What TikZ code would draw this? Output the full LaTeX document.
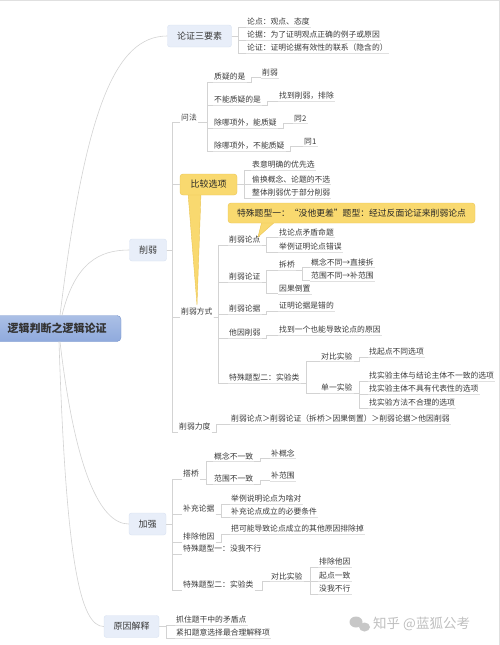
\documentclass[tikz,border=0pt]{standalone}
\usepackage{fontspec}
\setmainfont{Noto Sans CJK SC}
\usepackage{xcolor}
\usepackage{tikz}
\usetikzlibrary{positioning,calc}
\definecolor{linkgray}{HTML}{D3D3D3}
\definecolor{topicfill}{HTML}{E8EEF9}
\definecolor{topicdraw}{HTML}{D8E1F1}
\definecolor{rootfill}{HTML}{8FAADD}
\definecolor{rootdraw}{HTML}{7592CB}
\definecolor{notefill}{HTML}{F9D96F}
\definecolor{notedraw}{HTML}{EAC453}
\definecolor{inktext}{HTML}{3A3A3A}

\begin{document}
\begin{tikzpicture}[x=1pt, y=-1pt,
  root/.style={draw=rootdraw, top color=rootfill!75, bottom color=rootfill, rounded corners=4pt, minimum width=128pt, minimum height=26pt, font=\fontsize{11}{12}\selectfont\bfseries, text=black!80},
  topic/.style={draw=topicdraw, fill=topicfill, rounded corners=2.5pt, minimum height=22pt, inner xsep=9.5pt, font=\fontsize{9}{10}\selectfont, text=inktext},
  leaf/.style={anchor=west, inner sep=1pt, font=\fontsize{7.8}{9}\selectfont, text=inktext},
  note/.style={draw=notedraw, fill=notefill, rounded corners=3pt, inner sep=0pt, text=black!85},
  link/.style={draw=linkgray, line width=0.6pt},
  uline/.style={draw=linkgray!70, line width=0.5pt}
]
\useasboundingbox (0,0) rectangle (500,645);
\draw[black!12] (0,0.5) -- (499.5,0.5) -- (499.5,645);

% root and main topics
\node[root] (root) at (57,328.5) {逻辑判断之逻辑论证};
\node[topic] (yaosu) at (199.5,36) {论证三要素};
\node[topic] (xueruo) at (148,250) {削弱};
\node[topic] (jiaqiang) at (147.5,524) {加强};
\node[topic] (jieshi) at (131.5,626.5) {原因解释};

\draw[link] ([xshift=3pt]root.north) .. controls (85,110) and (115,36) .. (yaosu.west);
\draw[link] ([xshift=5pt]root.north) .. controls (75,262) and (100,250) .. (xueruo.west);
\draw[link] ([xshift=3pt]root.south) .. controls (75,470) and (100,524) .. (jiaqiang.west);
\draw[link] ([xshift=2pt]root.south) .. controls (66,560) and (80,626.5) .. (jieshi.west);

% 论证三要素
\node[leaf] (ldian) at (246,22) {论点：观点、态度};
\node[leaf] (lju) at (246,35) {论据：为了证明观点正确的例子或原因};
\node[leaf] (lzheng) at (246,48) {论证：证明论据有效性的联系（隐含的）};
\foreach \c in {ldian,lju,lzheng}
  \draw[link] (yaosu.east) -- ++(7,0) |- (\c.south west);

% 削弱 - 问法
\node[leaf] (wenfa) at (180,118) {问法};
\node[leaf] (zhiyi) at (213,77) {质疑的是};
\node[leaf] (buneng) at (213,100) {不能质疑的是};
\node[leaf] (chuneng) at (213,123) {除哪项外，能质疑};
\node[leaf] (chubu) at (213,146) {除哪项外，不能质疑};
\node[leaf] (wxr) at (261,73) {削弱};
\node[leaf] (zhaodao) at (278,96) {找到削弱，排除};
\node[leaf] (tong2) at (293,119) {同2};
\node[leaf] (tong1) at (303,142) {同1};
\foreach \c in {zhiyi,buneng,chuneng,chubu}
  \draw[link] (wenfa.south east) -- ++(9,0) |- (\c.south west);
\draw[link] (zhiyi.south east) -- ++(5,0) |- (wxr.south west);
\draw[link] (buneng.south east) -- ++(5,0) |- (zhaodao.south west);
\draw[link] (chuneng.south east) -- ++(5,0) |- (tong2.south west);
\draw[link] (chubu.south east) -- ++(5,0) |- (tong1.south west);

% 削弱 - 比较选项
\node[leaf] (youxian) at (251,165) {表意明确的优先选};
\node[leaf] (touhuan) at (251,179) {偷换概念、论题的不选};
\node[leaf] (zhengti) at (251,193) {整体削弱优于部分削弱};

% 削弱 - 削弱方式
\node[leaf] (fangshi) at (180,312) {削弱方式};
\node[leaf] (xrld) at (228,240) {削弱论点};
\node[leaf] (maodun) at (278,232) {找论点矛盾命题};
\node[leaf] (juli) at (278,247) {举例证明论点错误};
\node[leaf] (xrlz) at (228,277) {削弱论证};
\node[leaf] (chaiqiao) at (278,265) {拆桥};
\node[leaf] (gainian) at (310,262) {概念不同→直接拆};
\node[leaf] (fanwei) at (310,276) {范围不同→补范围};
\node[leaf] (yinguo) at (278,289) {因果倒置};
\node[leaf] (xrlj) at (228,309) {削弱论据};
\node[leaf] (cuode) at (278,306) {证明论据是错的};
\node[leaf] (tayin) at (228,333) {他因削弱};
\node[leaf] (yuanyin) at (278,330) {找到一个也能导致论点的原因};
\node[leaf] (shiyan) at (228,378) {特殊题型二：实验类};
\node[leaf] (duibi) at (320,356) {对比实验};
\node[leaf] (qidian) at (368,352) {找起点不同选项};
\node[leaf] (danyi) at (320,388) {单一实验};
\node[leaf] (zhuti) at (368,376) {找实验主体与结论主体不一致的选项};
\node[leaf] (daibiao) at (368,389) {找实验主体不具有代表性的选项};
\node[leaf] (fangfa) at (368,403) {找实验方法不合理的选项};
\node[leaf] (lidu) at (178,427) {削弱力度};
\node[leaf] (paixu) at (230,419) {削弱论点＞削弱论证（拆桥＞因果倒置）＞削弱论据＞他因削弱};

\foreach \c in {wenfa,fangshi,lidu}
  \draw[link] (xueruo.east) -- ++(6,0) |- (\c.south west);
\foreach \c in {xrld,xrlz,xrlj,tayin,shiyan}
  \draw[link] (fangshi.south east) -- ++(5,0) |- (\c.south west);
\foreach \c in {maodun,juli}
  \draw[link] (xrld.south east) -- ++(5,0) |- (\c.south west);
\foreach \c in {chaiqiao,yinguo}
  \draw[link] (xrlz.south east) -- ++(5,0) |- (\c.south west);
\foreach \c in {gainian,fanwei}
  \draw[link] (chaiqiao.south east) -- ++(6,0) |- (\c.south west);
\draw[link] (xrlj.south east) -- ++(5,0) |- (cuode.south west);
\draw[link] (tayin.south east) -- ++(5,0) |- (yuanyin.south west);
\foreach \c in {duibi,danyi}
  \draw[link] (shiyan.south east) -- ++(6,0) |- (\c.south west);
\draw[link] (duibi.south east) -- ++(6,0) |- (qidian.south west);
\foreach \c in {zhuti,daibiao,fangfa}
  \draw[link] (danyi.south east) -- ++(6,0) |- (\c.south west);
\draw[link] (lidu.south east) -- ++(5,0) |- (paixu.south west);

% callouts
\coordinate (bjtip) at (197,305);
\coordinate (tstip) at (258,237);
\filldraw[fill=notefill, draw=notedraw] (188,193) -- (bjtip) -- (201,193) -- cycle;
\filldraw[fill=notefill, draw=notedraw] (262,221) -- (tstip) -- (276,221) -- cycle;
\node[note, minimum width=57pt, minimum height=21pt, font=\fontsize{9}{10}\selectfont] (bijiao) at (208.5,184.5) {比较选项};
\node[note, minimum width=247pt, minimum height=20pt, font=\fontsize{8.8}{10}\selectfont] (teshu) at (351.5,213) {特殊题型一：“没他更差”题型：经过反面论证来削弱论点};
\draw[link] (xueruo.east) -- ++(6,0) |- (bijiao.west);
\foreach \c in {youxian,touhuan,zhengti}
  \draw[link] (bijiao.east) -- ++(7,0) |- (\c.south west);

% 加强
\node[leaf] (daqiao) at (182,474) {搭桥};
\node[leaf] (gnbyz) at (213,456) {概念不一致};
\node[leaf] (bugn) at (270,453) {补概念};
\node[leaf] (fwbyz) at (213,479) {范围不一致};
\node[leaf] (bufw) at (270,476) {补范围};
\node[leaf] (buchong) at (182,509) {补充论据};
\node[leaf] (weisha) at (230,499) {举例说明论点为啥对};
\node[leaf] (biyao) at (230,512) {补充论点成立的必要条件};
\node[leaf] (paichu) at (182,537) {排除他因};
\node[leaf] (paichudiao) at (230,529) {把可能导致论点成立的其他原因排除掉};
\node[leaf] (meiwo) at (182,549) {特殊题型一：没我不行};
\node[leaf] (jqsy) at (182,585) {特殊题型二：实验类};
\node[leaf] (jqdb) at (270,576) {对比实验};
\node[leaf] (pcty) at (318,562) {排除他因};
\node[leaf] (qdyz) at (318,576) {起点一致};
\node[leaf] (mwbx) at (318,589) {没我不行};
\foreach \c in {daqiao,buchong,paichu,meiwo,jqsy}
  \draw[link] (jiaqiang.east) -- ++(6,0) |- (\c.south west);
\foreach \c in {gnbyz,fwbyz}
  \draw[link] (daqiao.south east) -- ++(6,0) |- (\c.south west);
\draw[link] (gnbyz.south east) -- ++(6,0) |- (bugn.south west);
\draw[link] (fwbyz.south east) -- ++(6,0) |- (bufw.south west);
\foreach \c in {weisha,biyao}
  \draw[link] (buchong.south east) -- ++(6,0) |- (\c.south west);
\draw[link] (paichu.south east) -- ++(6,0) |- (paichudiao.south west);
\draw[link] (jqsy.south east) -- ++(8,0) |- (jqdb.south west);
\foreach \c in {pcty,qdyz,mwbx}
  \draw[link] (jqdb.south east) -- ++(7,0) |- (\c.south west);

% 原因解释
\node[leaf] (maodundian) at (175,620) {抓住题干中的矛盾点};
\node[leaf] (heli) at (175,633) {紧扣题意选择最合理解释项};
\foreach \c in {maodundian,heli}
  \draw[link] (jieshi.east) -- ++(7,0) |- (\c.south west);

% underlines
\foreach \n in {ldian,lju,lzheng,zhiyi,buneng,chuneng,chubu,wxr,zhaodao,tong2,tong1,
  youxian,touhuan,zhengti,xrld,maodun,juli,xrlz,chaiqiao,gainian,fanwei,yinguo,xrlj,cuode,
  tayin,yuanyin,shiyan,duibi,qidian,danyi,zhuti,daibiao,fangfa,paixu,gnbyz,bugn,fwbyz,bufw,
  weisha,biyao,paichudiao,jqdb,pcty,qdyz,mwbx,maodundian,heli}
  \draw[uline] (\n.south west) -- (\n.south east);

% watermark
\fill[black!22] (356,622) ellipse (6.5 and 5.5);
\fill[black!22] (364.5,627) ellipse (5.5 and 4.5);
\node[anchor=west, inner sep=0pt, text=black!25, font=\fontsize{13.5}{14}\selectfont] (mark) at (373,624) {知乎 @蓝狐公考};
\end{tikzpicture}
\end{document}
